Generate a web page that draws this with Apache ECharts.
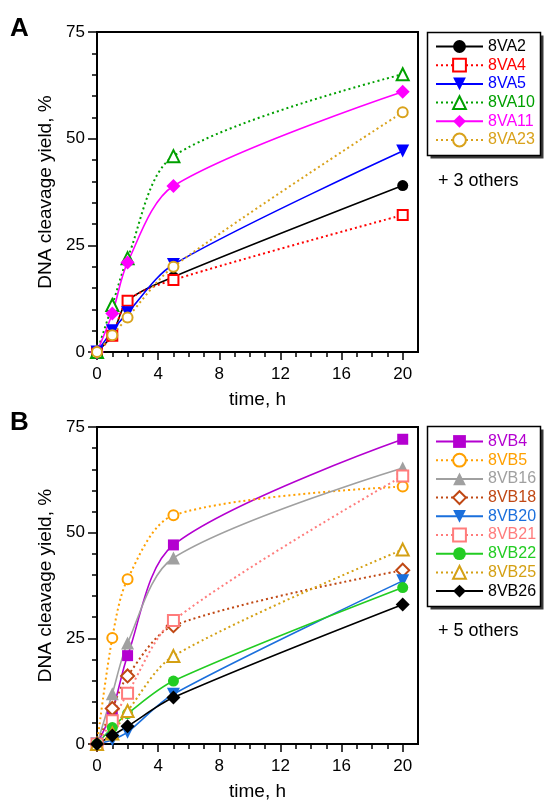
<!DOCTYPE html>
<html>
<head>
<meta charset="utf-8">
<script src="https://cdn.jsdelivr.net/npm/echarts@6/dist/echarts.min.js"></script>
<style>
  html, body { margin: 0; padding: 0; background: #fff; }
  #main { width: 545px; height: 802px; }
</style>
</head>
<body>
<div id="main"></div>
<script>
var times = [0, 1, 2, 5, 20];
var xTicks = [0, 4, 8, 12, 16, 20];
var xMinor = [1, 2, 3, 5, 6, 7, 9, 10, 11, 13, 14, 15, 17, 18, 19];
var yTicks = [0, 25, 50, 75];

// panel A
var namesA = ['8VA2', '8VA4', '8VA5', '8VA10', '8VA11', '8VA23'];
var va2  = [0, 4.0, 12.0, 17.6, 39.0];
var va4  = [0, 3.8, 12.0, 16.9, 32.1];
var va5  = [0, 5.0, 9.2, 20.5, 47.1];
var va10 = [0, 11.0, 22.0, 45.9, 65.1];
var va11 = [0, 9.0, 21.0, 38.9, 61.0];
var va23 = [0, 3.9, 8.1, 20.0, 56.2];

// panel B
var namesB = ['8VB4', '8VB5', '8VB16', '8VB18', '8VB20', '8VB21', '8VB22', '8VB25', '8VB26'];
var vb4  = [0, 7.8, 20.9, 47.1, 72.1];
var vb5  = [0, 25.1, 39.0, 54.1, 60.9];
var vb16 = [0, 11.9, 23.9, 44.0, 65.3];
var vb18 = [0, 8.4, 16.1, 28.0, 41.1];
var vb20 = [0, 1.0, 2.8, 11.8, 38.6];
var vb21 = [0, 5.5, 12.0, 29.2, 63.4];
var vb22 = [0, 3.9, 7.2, 14.9, 37.0];
var vb25 = [0, 2.5, 7.8, 20.8, 46.0];
var vb26 = [0, 2.0, 4.2, 11.0, 33.0];

var font = "'Liberation Sans', Arial, sans-serif";

function pts(vals) {
    return times.map(function (t, i) { return [t, vals[i]]; });
}

function mk(name, vals, color, symbol, size, dotted, grid, rot) {
    return {
        name: name,
        type: 'line',
        xAxisIndex: grid * 2,
        yAxisIndex: grid,
        data: pts(vals),
        smooth: 0.3,
        clip: false,
        symbol: symbol,
        symbolSize: size,
        symbolRotate: rot || 0,
        showAllSymbol: true,
        color: color,
        itemStyle: { color: color, borderWidth: 1.6 },
        lineStyle: { color: color, width: dotted ? 2 : 1.6, type: dotted ? [2, 3] : 'solid' },
        emphasis: { disabled: true }
    };
}

var seriesA = [
    mk('8VA2',  va2,  '#000000', 'circle', 11, false, 0),
    mk('8VA4',  va4,  '#ff0000', 'emptyRect', 10, true, 0),
    mk('8VA5',  va5,  '#0000ff', 'triangle', 13, false, 0, 180),
    mk('8VA10', va10, '#00a000', 'emptyTriangle', 12, true, 0),
    mk('8VA11', va11, '#ff00ff', 'diamond', 14, false, 0),
    mk('8VA23', va23, '#d9a21b', 'emptyCircle', 10, true, 0)
];
var seriesB = [
    mk('8VB4',  vb4,  '#b400d0', 'rect', 11, false, 1),
    mk('8VB5',  vb5,  '#ffa000', 'emptyCircle', 10, true, 1),
    mk('8VB16', vb16, '#a0a0a0', 'triangle', 13, false, 1),
    mk('8VB18', vb18, '#c04814', 'emptyDiamond', 13, true, 1),
    mk('8VB20', vb20, '#1a6fdc', 'triangle', 13, false, 1, 180),
    mk('8VB21', vb21, '#ff7c7c', 'emptyRect', 11, true, 1),
    mk('8VB22', vb22, '#22cc22', 'circle', 11, false, 1),
    mk('8VB25', vb25, '#d4a014', 'emptyTriangle', 12, true, 1),
    mk('8VB26', vb26, '#000000', 'diamond', 14, false, 1)
];

function legendData(list) {
    return list.map(function (s) {
        return { name: s.name, textStyle: { color: s.color } };
    });
}

function xAxes(grid, nameText) {
    return [
        {
            type: 'value', gridIndex: grid, min: 0, max: 21,
            name: nameText, nameLocation: 'middle', nameGap: 38,
            nameTextStyle: { fontFamily: font, fontSize: 19, color: '#000' },
            axisLine: { show: true, lineStyle: { color: '#000', width: 2 } },
            axisTick: { show: true, customValues: xTicks, length: 8, lineStyle: { color: '#000', width: 1.5 } },
            axisLabel: { customValues: xTicks, margin: 14, fontFamily: font, fontSize: 17, color: '#000' },
            splitLine: { show: false }
        },
        {
            type: 'value', gridIndex: grid, min: 0, max: 21, position: 'bottom',
            axisLine: { show: false },
            axisTick: { show: true, customValues: xMinor, length: 5, lineStyle: { color: '#000', width: 1.5 } },
            axisLabel: { show: false },
            splitLine: { show: false }
        }
    ];
}

function yAxis(grid) {
    return {
        type: 'value', gridIndex: grid, min: 0, max: 75, interval: 25,
        name: 'DNA cleavage yield, %', nameLocation: 'middle', nameGap: 42,
        nameTextStyle: { fontFamily: font, fontSize: 19, color: '#000' },
        axisLine: { show: true, lineStyle: { color: '#000', width: 2 } },
        axisTick: { show: true, length: 9, lineStyle: { color: '#000', width: 1.5 } },
        minorTick: { show: true, splitNumber: 5, length: 5, lineStyle: { color: '#000', width: 1.5 } },
        axisLabel: { margin: 12, fontFamily: font, fontSize: 17, color: '#000' },
        splitLine: { show: false }
    };
}

function legend(list, top) {
    return {
        orient: 'vertical', left: 435, top: top,
        data: legendData(list),
        itemWidth: 47, itemHeight: 16, itemGap: 2.7,
        padding: 0, z: 10,
        selectedMode: false,
        textStyle: { fontFamily: font, fontSize: 16 }
    };
}

function box(x, y, w, h) {
    return [
        { type: 'rect', z: 1, shape: { x: x + 3, y: y + 3, width: w, height: h }, style: { fill: '#3a3a3a' } },
        { type: 'rect', z: 2, shape: { x: x, y: y, width: w, height: h }, style: { fill: '#fff', stroke: '#000', lineWidth: 1.5 } }
    ];
}

var option = {
    backgroundColor: '#fff',
    animation: false,
    grid: [
        { left: 97, top: 32, width: 321, height: 320, show: true, borderColor: '#000', borderWidth: 2, backgroundColor: 'transparent' },
        { left: 97, top: 427, width: 321, height: 320, show: true, borderColor: '#000', borderWidth: 2, backgroundColor: 'transparent' }
    ],
    xAxis: xAxes(0, 'time, h').concat(xAxes(1, 'time, h')),
    yAxis: [yAxis(0), yAxis(1)],
    legend: [legend(seriesA, 38.5), legend(seriesB, 433.5)],
    graphic: box(427.5, 32.5, 113, 123).concat(box(427.5, 426.5, 113, 180)).concat([
        { type: 'text', left: 10, top: 16, style: { text: 'A', font: 'bold 26px ' + font, fill: '#000' } },
        { type: 'text', left: 10, top: 410, style: { text: 'B', font: 'bold 26px ' + font, fill: '#000' } },
        { type: 'text', left: 438, top: 172, style: { text: '+ 3 others', font: '18px ' + font, fill: '#000' } },
        { type: 'text', left: 438, top: 622, style: { text: '+ 5 others', font: '18px ' + font, fill: '#000' } }
    ]),
    series: seriesA.concat(seriesB)
};

var myChart = echarts.init(document.getElementById('main'));
myChart.setOption(option);
window.addEventListener("resize", function () {
    myChart.resize();
});
</script>
</body>
</html>
